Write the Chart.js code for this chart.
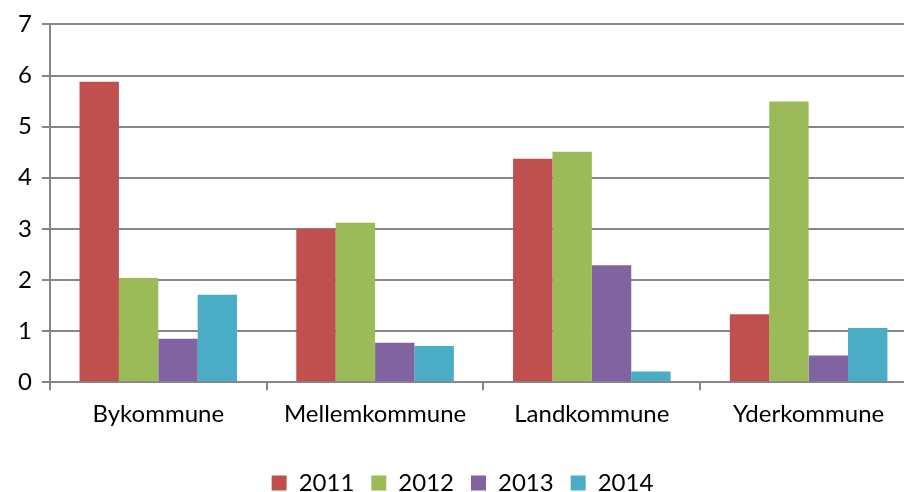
<!DOCTYPE html>
<html>
<head>
<meta charset="utf-8">
<script src="https://cdn.jsdelivr.net/npm/chart.js@4/dist/chart.umd.min.js"></script>
<style>
  html, body { margin: 0; padding: 0; background: #fff; overflow: hidden; }
  #wrap { width: 917px; height: 492px; position: relative; }
</style>
</head>
<body>
<div id="wrap"><canvas id="chart"></canvas></div>
<script>
// ── Data ──
const categories = ['Bykommune', 'Mellemkommune', 'Landkommune', 'Yderkommune'];
const years      = ['2011', '2012', '2013', '2014'];

const values2011 = [5.88, 3.00, 4.37, 1.33];
const values2012 = [2.04, 3.12, 4.51, 5.49];
const values2013 = [0.85, 0.77, 2.29, 0.52];
const values2014 = [1.71, 0.71, 0.21, 1.06];

const colors = ['#C0504D', '#9BBB59', '#8064A2', '#4BACC6'];
const series = [values2011, values2012, values2013, values2014];

const font = { family: 'Lato, "Open Sans", sans-serif', size: 24 };

new Chart(document.getElementById('chart'), {
    type: 'bar',
    data: {
        labels: categories,
        datasets: series.map((vals, i) => ({
            label:           years[i],
            data:            vals,
            backgroundColor: colors[i],
            categoryPercentage: 0.727,
            barPercentage:   1.0
        }))
    },
    options: {
        responsive: true,
        maintainAspectRatio: false,
        animation: false,
        layout: { padding: { top: 6, left: 8, right: 0, bottom: -13 } },
        plugins: {
            tooltip: { enabled: false },
            legend: {
                position: 'bottom',
                labels: {
                    font: font,
                    color: '#000',
                    boxWidth: 15,
                    boxHeight: 15,
                    padding: 17
                }
            }
        },
        scales: {
            x: {
                grid: {
                    offset: true,
                    drawOnChartArea: false,
                    tickLength: 8,
                    color: '#868686',
                    lineWidth: 2
                },
                border: { color: '#868686', width: 2 },
                ticks: { font: font, color: '#000', padding: 10 },
                // extra room under the labels so the legend sits lower
                afterFit: (scale) => { scale.height += 15; }
            },
            y: {
                min: 0,
                max: 7,
                grid: { color: '#868686', lineWidth: 2, tickLength: 8 },
                border: { color: '#868686', width: 2 },
                ticks: { stepSize: 1, font: font, color: '#000', padding: 10 }
            }
        }
    }
});
</script>
</body>
</html>
